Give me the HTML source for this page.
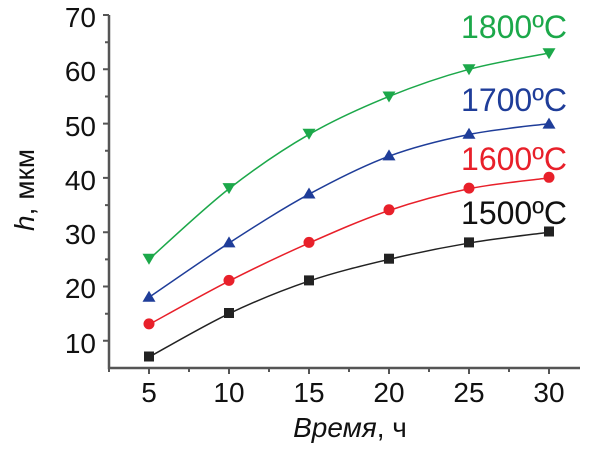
<!DOCTYPE html><html><head><meta charset="utf-8"><style>body{margin:0;background:#fff}svg{display:block}text{font-family:"Liberation Sans",sans-serif}</style></head><body>
<svg id="s" width="600" height="450" viewBox="0 0 600 450">
<g stroke="#555" stroke-width="2.5" fill="none">
<path d="M109,15 V368 H580"/>
</g>
<g stroke="#555" stroke-width="2">
<path d="M103,15h6M103,69.3h6M103,123.6h6M103,177.9h6M103,232.2h6M103,286.5h6M103,340.8h6M105,42.2h4M105,96.5h4M105,150.8h4M105,205.1h4M105,259.4h4M105,313.7h4"/>
<path d="M149,368v6M229,368v6M309,368v6M389,368v6M469,368v6M549,368v6M189,368v4M269,368v4M349,368v4M429,368v4M509,368v4M109,368v4"/>
</g>
<g font-size="28" fill="#111" text-anchor="end">
<text x="96" y="27">70</text><text x="96" y="81">60</text><text x="96" y="136">50</text><text x="96" y="190">40</text><text x="96" y="244">30</text><text x="96" y="298">20</text><text x="96" y="353">10</text>
</g>
<g font-size="28" fill="#111" text-anchor="middle">
<text x="149" y="402">5</text><text x="229" y="402">10</text><text x="309" y="402">15</text><text x="389" y="402">20</text><text x="469" y="402">25</text><text x="549" y="402">30</text>
<text x="350" y="437"><tspan font-style="italic">Время</tspan>, ч</text>
<text transform="translate(34,190) rotate(-90)"><tspan font-style="italic">h</tspan>, мкм</text>
</g>
<g id="curves" fill="none" stroke-width="1.5"></g>
<g fill="#222"><rect x="144" y="351.5" width="10" height="10"/><rect x="224" y="308" width="10" height="10"/><rect x="304" y="275.4" width="10" height="10"/><rect x="384" y="253.7" width="10" height="10"/><rect x="464" y="237.4" width="10" height="10"/><rect x="544" y="226.5" width="10" height="10"/></g>
<g fill="#e8202a"><circle cx="149" cy="323.9" r="5.5"/><circle cx="229" cy="280.4" r="5.5"/><circle cx="309" cy="242.4" r="5.5"/><circle cx="389" cy="209.8" r="5.5"/><circle cx="469" cy="188.1" r="5.5"/><circle cx="549" cy="177.3" r="5.5"/></g>
<g fill="#1f3d99"><path d="M149,290.7l6.5,11h-13z"/><path d="M229,236.4l6.5,11h-13z"/><path d="M309,187.5l6.5,11h-13z"/><path d="M389,149.4l6.5,11h-13z"/><path d="M469,127.7l6.5,11h-13z"/><path d="M549,117.6l6.5,11h-13z"/></g>
<g fill="#1ca84a"><path d="M149,264.7l6.5,-11h-13z"/><path d="M229,194.1l6.5,-11h-13z"/><path d="M309,139.7l6.5,-11h-13z"/><path d="M389,102.5l6.5,-11h-13z"/><path d="M469,75.3l6.5,-11h-13z"/><path d="M549,59.2l6.5,-11h-13z"/></g>
<g font-size="32" text-anchor="end">
<text x="567" y="38" fill="#1ca84a">1800ºC</text>
<text x="567" y="111" fill="#1f3d99">1700ºC</text>
<text x="567" y="170" fill="#e8202a">1600ºC</text>
<text x="567" y="224" fill="#111">1500ºC</text>
</g>
</svg>
<script>
var S=[["#222",[7,15,21,25,28,30]],["#e8202a",[13,21,28,34,38,40]],["#1f3d99",[18,28,37,44,48,50]],["#1ca84a",[25,38,48,55,60,63]]];
var g=document.getElementById("curves");
S.forEach(function(s){var p=s[1].map(function(v,i){return[149+80*i,15+(70-v)*5.43]});
var d="M"+p[0];for(var i=0;i<p.length-1;i++){var a=p[i-1]||p[i],b=p[i],c=p[i+1],e=p[i+2]||c;
d+=" C"+(b[0]+(c[0]-a[0])/6)+","+(b[1]+(c[1]-a[1])/6)+" "+(c[0]-(e[0]-b[0])/6)+","+(c[1]-(e[1]-b[1])/6)+" "+c;}
var el=document.createElementNS("http://www.w3.org/2000/svg","path");el.setAttribute("d",d);el.setAttribute("stroke",s[0]);g.appendChild(el);});
</script>
</body></html>
